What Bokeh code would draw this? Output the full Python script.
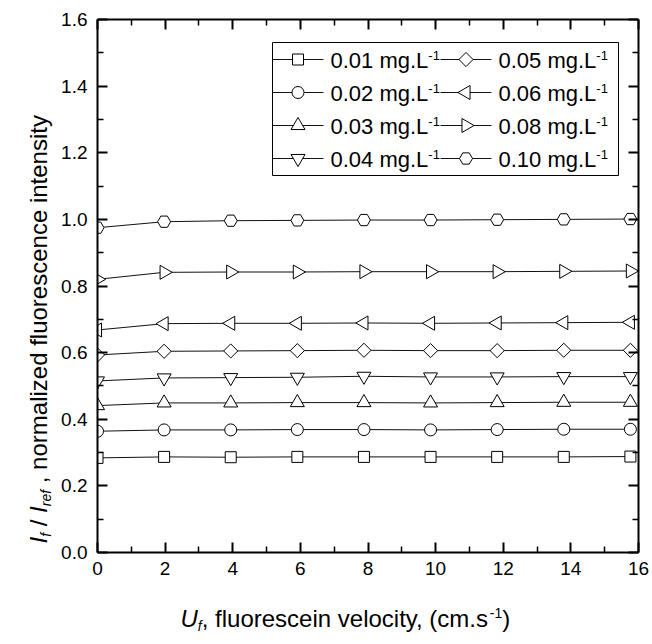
from math import pi
from bokeh.plotting import figure
from bokeh.layouts import row, column
from bokeh.models import (Range1d, LinearAxis, FixedTicker, PrintfTickFormatter, Label)
from bokeh.embed import file_html
from bokeh.resources import INLINE

# ---------------- data ----------------
velocity = [0, 1.97, 3.94, 5.91, 7.88, 9.85, 11.82, 13.79, 15.76]

conc_labels = ["0.01 mg.L", "0.02 mg.L", "0.03 mg.L", "0.04 mg.L",
               "0.05 mg.L", "0.06 mg.L", "0.08 mg.L", "0.10 mg.L"]
conc_unit_exp = "-1"

i_001 = [0.284, 0.287, 0.286, 0.287, 0.287, 0.287, 0.287, 0.287, 0.288]
i_002 = [0.364, 0.368, 0.368, 0.369, 0.369, 0.368, 0.369, 0.370, 0.370]
i_003 = [0.441, 0.449, 0.449, 0.450, 0.450, 0.449, 0.450, 0.451, 0.451]
i_004 = [0.515, 0.524, 0.525, 0.526, 0.529, 0.527, 0.527, 0.528, 0.528]
i_005 = [0.593, 0.604, 0.605, 0.606, 0.607, 0.606, 0.606, 0.607, 0.607]
i_006 = [0.668, 0.687, 0.688, 0.688, 0.689, 0.688, 0.689, 0.690, 0.691]
i_008 = [0.820, 0.841, 0.842, 0.842, 0.843, 0.843, 0.843, 0.844, 0.845]
i_010 = [0.975, 0.993, 0.996, 0.997, 0.998, 0.998, 0.999, 1.000, 1.001]

series = [i_001, i_002, i_003, i_004, i_005, i_006, i_008, i_010]

x_ticks = [0, 2, 4, 6, 8, 10, 12, 14, 16]
y_ticks = [0.0, 0.2, 0.4, 0.6, 0.8, 1.0, 1.2, 1.4, 1.6]

# marker styles (marker, size, angle)
marker_styles = [("square", 11, 0), ("circle", 12, 0), ("triangle", 14, 0),
                 ("inverted_triangle", 14, 0), ("square", 10, pi / 4),
                 ("triangle", 14, pi / 2), ("triangle", 14, -pi / 2),
                 ("hex", 13, 0)]

FONT = "Liberation Sans"

# ---------------- layout geometry (canvas pixels) ----------------
W, H = 652, 644
YT_W = 56                 # strip holding the y title
XT_H = 50                 # strip holding the x title
MW, MH = W - YT_W, H - XT_H
FRAME_L, FRAME_R, FRAME_T, FRAME_B = 97, 638, 19, 552
X0, X1, Y0, Y1 = 0, 16, 0, 1.6
FW, FH = FRAME_R - FRAME_L, FRAME_B - FRAME_T

p = figure(width=MW, height=MH, output_backend="svg", toolbar_location=None,
           x_range=Range1d(X0, X1), y_range=Range1d(Y0, Y1),
           min_border_left=FRAME_L - YT_W, min_border_right=W - FRAME_R,
           min_border_top=FRAME_T, min_border_bottom=MH - FRAME_B)
p.xgrid.visible = False
p.ygrid.visible = False
p.outline_line_color = None
p.background_fill_color = "white"
p.border_fill_color = "white"


def dx(px):
    """canvas pixel x -> data x of main plot"""
    return X0 + (px - FRAME_L) * (X1 - X0) / FW


def dy(py):
    """canvas pixel y -> data y of main plot"""
    return Y0 + (FRAME_B - py) * (Y1 - Y0) / FH


x_minor = [(a + b) / 2 for a, b in zip(x_ticks, x_ticks[1:])]
y_minor = [(a + b) / 2 for a, b in zip(y_ticks, y_ticks[1:])]


def style_axis(ax, labels, ticks, minor, fmt):
    ax.ticker = FixedTicker(ticks=ticks, minor_ticks=minor)
    ax.formatter = PrintfTickFormatter(format=fmt)
    ax.axis_line_width = 2
    ax.axis_line_color = "black"
    ax.major_tick_in = 10
    ax.major_tick_out = 0
    ax.minor_tick_in = 6
    ax.minor_tick_out = 0
    ax.major_tick_line_width = 2
    ax.minor_tick_line_width = 1.5
    ax.major_tick_line_color = "black"
    ax.minor_tick_line_color = "black"
    ax.axis_label = None
    if labels:
        ax.major_label_text_font = FONT
        ax.major_label_text_font_size = "19px"
        ax.major_label_text_color = "black"
    else:
        ax.major_label_overrides = {t: "" for t in ticks}
        ax.major_label_text_font_size = "1px"
        ax.major_label_standoff = 0


style_axis(p.xaxis[0], True, x_ticks, x_minor, "%d")
p.xaxis[0].major_label_standoff = 9
style_axis(p.yaxis[0], True, y_ticks, y_minor, "%.1f")
p.yaxis[0].major_label_standoff = 10

ax_top = LinearAxis()
style_axis(ax_top, False, x_ticks, x_minor, "%d")
p.add_layout(ax_top, "above")
ax_right = LinearAxis()
style_axis(ax_right, False, y_ticks, y_minor, "%.1f")
p.add_layout(ax_right, "right")

# ---------------- data marks ----------------
for vals, (mk, sz, ang) in zip(series, marker_styles):
    p.line(velocity, vals, line_color="#111111", line_width=1)
    p.scatter(velocity, vals, marker=mk, size=sz, angle=ang,
              fill_color="white", line_color="black", line_width=1)

# ---------------- text helper ----------------
ADV = {" ": 278, "(": 333, ")": 333, ",": 278, "-": 333, ".": 278, "/": 278,
       "0": 556, "1": 556, "2": 556, "3": 556, "4": 556, "5": 556, "6": 556,
       "8": 556, "I": 278, "L": 556, "U": 722, "a": 556, "c": 500,
       "d": 556, "e": 556, "f": 278, "g": 556, "i": 222, "l": 222, "m": 833,
       "n": 556, "o": 556, "r": 333, "s": 500, "t": 278, "u": 556, "v": 500,
       "y": 500, "z": 500}


def text_width(s, size):
    return sum(ADV.get(ch, 556) for ch in s) * size / 1000.0


def compose(fig, to_data, pieces, cx, cy, vertical=False):
    """pieces: (text, size, style, shift of the text middle (+ = down/right));
    cx, cy: canvas px of the start point / middle line.  Leading/trailing
    blanks are turned into advances (SVG collapses them)."""
    for txt, size, style, shift in pieces:
        lead = text_width(txt[:len(txt) - len(txt.lstrip())], size)
        core = txt.strip()
        trail = text_width(txt[len(txt.rstrip()):], size)
        if vertical:
            cy -= lead
            lx, ly = to_data(cx + shift, cy)
            ang = pi / 2
        else:
            cx += lead
            lx, ly = to_data(cx, cy + shift)
            ang = 0
        fig.add_layout(Label(x=lx, y=ly, text=core, angle=ang, text_font=FONT,
                             text_font_size=f"{size}px", text_font_style=style,
                             text_align="left", text_baseline="middle",
                             text_color="black"))
        if vertical:
            cy -= text_width(core, size) + trail
        else:
            cx += text_width(core, size) + trail


# ---------------- legend (drawn by hand, Origin style) ----------------
LEG_L, LEG_R, LEG_T, LEG_B = 272, 618, 42, 175
ROW0, ROW_H = 59, 33
COLS = [(272, 323, 330), (440, 491, 498)]   # line start, line end, text start
p.quad(left=[dx(LEG_L)], right=[dx(LEG_R)], top=[dy(LEG_T)], bottom=[dy(LEG_B)],
       fill_color="white", line_color="black", line_width=1)
for k, (lab, (mk, sz, ang)) in enumerate(zip(conc_labels, marker_styles)):
    col, rw = divmod(k, 4)
    ls, le, ts = COLS[col]
    cy = ROW0 + rw * ROW_H
    p.segment(x0=[dx(ls)], y0=[dy(cy)], x1=[dx(le)], y1=[dy(cy)],
              line_color="#111111", line_width=1)
    p.scatter(x=[dx((ls + le) / 2)], y=[dy(cy)], marker=mk, size=sz, angle=ang,
              fill_color="white", line_color="black", line_width=1)
    compose(p, lambda a, b: (dx(a), dy(b)),
            [(lab, 22, "normal", 0), (conc_unit_exp, 13, "normal", -5)],
            ts, cy + 1)


# ---------------- axis title strips ----------------
# Plots stacked in the column share the main frame's left/right edges, so the
# x strip's range is given in canvas pixels over that frame.
def text_strip(w, h, xr, yr):
    f = figure(width=w, height=h, output_backend="svg", toolbar_location=None,
               x_range=Range1d(*xr), y_range=Range1d(*yr),
               x_axis_type=None, y_axis_type=None,
               min_border=0, min_border_left=0, min_border_right=0,
               min_border_top=0, min_border_bottom=0)
    f.outline_line_color = None
    f.background_fill_color = "white"
    f.border_fill_color = "white"
    return f


yt = text_strip(YT_W, H, (0, YT_W), (0, H))
xt = text_strip(MW, XT_H, (FRAME_L, FRAME_R), (0, XT_H))

x_title = [("U", 24, "italic", 0), ("f", 14, "italic", 7),
           (", fluorescein velocity, (cm.s", 24, "normal", 0),
           ("-1", 14, "normal", -6), (")", 24, "normal", 0)]
y_title = [("I", 24, "italic", 0), ("f", 14, "italic", 7),
           (" / ", 24, "normal", 0), ("I", 24, "italic", 0),
           ("ref", 14, "italic", 7),
           (" , normalized fluorescence intensity", 24, "normal", 0)]

compose(xt, lambda a, b: (a, H - b), x_title, 180, 618)
compose(yt, lambda a, b: (a, H - b), y_title, 38, 543, vertical=True)

layout = row(yt, column(p, xt))
open("out.html", "w").write(file_html(layout, INLINE))
